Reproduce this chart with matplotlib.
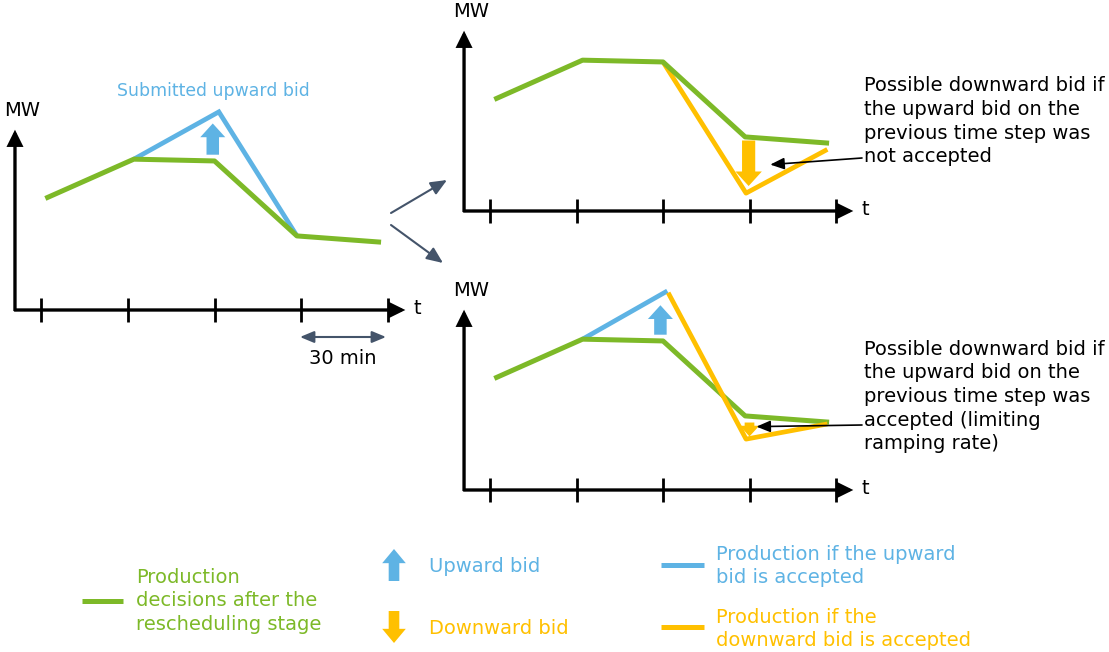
import matplotlib
matplotlib.use("Agg")
import matplotlib.pyplot as plt

# ---------------- data ----------------
steps = [0, 1, 2, 3, 4]                      # time-step tick positions (30 min each)
green_t = [0.05, 1.07, 2.0, 2.95, 3.92]      # production decisions after rescheduling
green_mw = [62.5, 84.5, 83.5, 41.5, 38.0]

# panel 1: submitted upward bid
p1_blue_t = [1.07, 2.05, 2.95]
p1_blue_mw = [84.5, 111.0, 41.5]
p1_up_t, p1_up_from, p1_up_to = 1.98, 87.0, 104.5

# panel 2: upward bid not accepted -> possible downward bid
p2_orange_t = [2.0, 2.96, 3.9]
p2_orange_mw = [83.5, 10.0, 34.5]
p2_down_t, p2_down_from, p2_down_to = 2.99, 39.5, 14.0

# panel 3: upward bid accepted -> limited downward bid
p3_blue_t = [1.07, 2.05]
p3_blue_mw = [84.5, 111.5]
p3_orange_t = [2.06, 2.96, 3.9]
p3_orange_mw = [110.5, 28.5, 37.0]
p3_up_t, p3_up_from, p3_up_to = 1.97, 87.0, 103.5
p3_down_t, p3_down_from, p3_down_to = 3.0, 37.8, 30.0

# ---------------- style ----------------
GREEN = "#7DB928"
BLUE = "#5EB3E4"
ORANGE = "#FFC000"
GREY = "#44546A"
FS = 14
W, H = 1109, 652

fig = plt.figure(figsize=(W / 100, H / 100), dpi=100)
plt.rcParams["font.family"] = ["DejaVu Sans"]

over = fig.add_axes([0, 0, 1, 1])
over.set_xlim(0, W)
over.set_ylim(H, 0)
over.axis("off")

SY = 1.785   # px per MW unit
AX_ARROW = dict(arrowstyle="-|>,head_width=0.42,head_length=0.85",
                lw=2.4, color="black", mutation_scale=10, shrinkA=0, shrinkB=0,
                capstyle="butt", joinstyle="miter")


def make_panel(tick0_px, origin_y_px, sx):
    left = tick0_px - 0.3 * sx
    width = 5.0 * sx
    bottom_from_top = origin_y_px + 10 * SY
    height = 130 * SY
    ax = fig.add_axes([left / W, (H - bottom_from_top) / H, width / W, height / H])
    ax.set_xlim(-0.3, 4.7)
    ax.set_ylim(-10, 120)
    ax.axis("off")
    ax.patch.set_alpha(0)
    ax.annotate("", xy=(4.2, 0), xytext=(-0.31, 0), arrowprops=AX_ARROW)
    ax.annotate("", xy=(-0.3, 101), xytext=(-0.3, -0.6), arrowprops=AX_ARROW)
    ax.vlines(steps, -6.5, 6.5, color="black", lw=2)
    ax.text(-0.22, 112, "MW", fontsize=FS, ha="center", va="center")
    ax.text(4.34, 1, "t", fontsize=FS, ha="center", va="center")
    return ax


def block_arrow(ax, x, y0, y1, color, scale=18):
    ax.annotate("", xy=(x, y1), xytext=(x, y0),
                arrowprops=dict(arrowstyle="simple,head_length=0.55,head_width=1.0,tail_width=0.5",
                                color=color, mutation_scale=scale, shrinkA=0, shrinkB=0, lw=0))


# ---------- panel 1 ----------
ax1 = make_panel(41, 310, 86.75)
ax1.plot(p1_blue_t, p1_blue_mw, color=BLUE, lw=3.4, solid_capstyle="butt", solid_joinstyle="miter")
ax1.plot(green_t, green_mw, color=GREEN, lw=3.6, solid_capstyle="butt")
block_arrow(ax1, p1_up_t, p1_up_from, p1_up_to, BLUE)
over.text(213, 91, "Submitted upward bid", color=BLUE, fontsize=12.4, ha="center", va="center")
over.annotate("", xy=(300, 337), xytext=(386, 337),
              arrowprops=dict(arrowstyle="<|-|>,head_width=0.25,head_length=0.6", color=GREY,
                              lw=1.5, mutation_scale=14, shrinkA=0, shrinkB=0))
over.text(343, 359, "30 min", fontsize=FS, ha="center", va="center")

# connectors
over.annotate("", xy=(447, 180), xytext=(391, 213),
              arrowprops=dict(arrowstyle="-|>,head_width=0.3,head_length=0.7", color=GREY,
                              lw=1.5, mutation_scale=14, shrinkA=0, shrinkB=0))
over.annotate("", xy=(443, 263), xytext=(391, 225),
              arrowprops=dict(arrowstyle="-|>,head_width=0.3,head_length=0.7", color=GREY,
                              lw=1.5, mutation_scale=14, shrinkA=0, shrinkB=0))

# ---------- panel 2 ----------
ax2 = make_panel(490, 211, 86.5)
ax2.plot(p2_orange_t, p2_orange_mw, color=ORANGE, lw=3.4, solid_capstyle="butt")
ax2.plot(green_t, green_mw, color=GREEN, lw=3.6, solid_capstyle="butt")
block_arrow(ax2, p2_down_t, p2_down_from, p2_down_to, ORANGE, scale=19)
over.text(864, 76, "Possible downward bid if\nthe upward bid on the\nprevious time step was\nnot accepted",
          fontsize=FS, ha="left", va="top", linespacing=1.32)
ax2.annotate("", xy=(3.24, 26), xycoords="data", xytext=(862, 158), textcoords=over.transData,
             arrowprops=dict(arrowstyle="-|>,head_width=0.25,head_length=0.6", color="black",
                             lw=1.2, mutation_scale=14, shrinkA=0, shrinkB=0))

# ---------- panel 3 ----------
ax3 = make_panel(490, 490, 86.5)
ax3.plot(p3_blue_t, p3_blue_mw, color=BLUE, lw=3.4, solid_capstyle="butt")
ax3.plot(green_t, green_mw, color=GREEN, lw=3.6, solid_capstyle="butt")
ax3.plot(p3_orange_t, p3_orange_mw, color=ORANGE, lw=3.4, solid_capstyle="butt")
block_arrow(ax3, p3_up_t, p3_up_from, p3_up_to, BLUE)
block_arrow(ax3, p3_down_t, p3_down_from, p3_down_to, ORANGE, scale=14)
over.text(864, 340, "Possible downward bid if\nthe upward bid on the\nprevious time step was\naccepted (limiting\nramping rate)",
          fontsize=FS, ha="left", va="top", linespacing=1.3)
ax3.annotate("", xy=(3.08, 35.5), xycoords="data", xytext=(862, 425), textcoords=over.transData,
             arrowprops=dict(arrowstyle="-|>,head_width=0.25,head_length=0.6", color="black",
                             lw=1.2, mutation_scale=14, shrinkA=0, shrinkB=0))

# ---------- legend ----------
over.plot([82, 123], [601, 601], color=GREEN, lw=3.6, solid_capstyle="butt")
over.text(136, 601, "Production\ndecisions after the\nrescheduling stage", color=GREEN,
          fontsize=FS, ha="left", va="center", linespacing=1.3)
over.annotate("", xy=(394, 549), xytext=(394, 581),
              arrowprops=dict(arrowstyle="simple,head_length=0.6,head_width=1.0,tail_width=0.45",
                              color=BLUE, mutation_scale=17, shrinkA=0, shrinkB=0, lw=0))
over.text(429, 566, "Upward bid", color=BLUE, fontsize=FS, ha="left", va="center")
over.annotate("", xy=(394, 643), xytext=(394, 611),
              arrowprops=dict(arrowstyle="simple,head_length=0.6,head_width=1.0,tail_width=0.45",
                              color=ORANGE, mutation_scale=17, shrinkA=0, shrinkB=0, lw=0))
over.text(429, 629, "Downward bid", color=ORANGE, fontsize=FS, ha="left", va="center")
over.plot([661, 704], [565, 565], color=BLUE, lw=3.6, solid_capstyle="butt")
over.text(716, 566, "Production if the upward\nbid is accepted", color=BLUE,
          fontsize=FS, ha="left", va="center", linespacing=1.25)
over.plot([661, 704], [627, 627], color=ORANGE, lw=3.6, solid_capstyle="butt")
over.text(716, 629, "Production if the\ndownward bid is accepted", color=ORANGE,
          fontsize=FS, ha="left", va="center", linespacing=1.25)

fig.savefig("out.png", dpi=100)
